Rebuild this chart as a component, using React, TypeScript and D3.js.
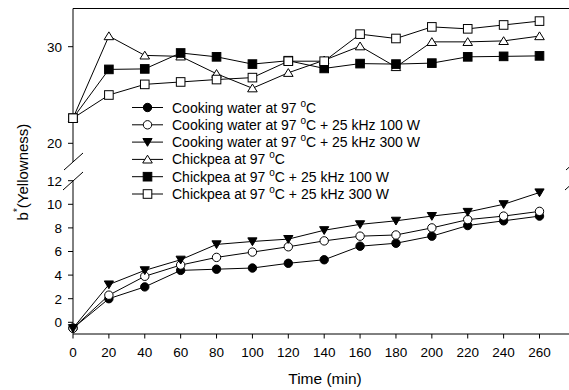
import React from "react";
import * as d3 from "d3";

const times = [0, 20, 40, 60, 80, 100, 120, 140, 160, 180, 200, 220, 240, 260];
const xTicks = [0, 20, 40, 60, 80, 100, 120, 140, 160, 180, 200, 220, 240, 260];
const lowerTicks = [0, 2, 4, 6, 8, 10, 12];
const upperTicks = [20, 30];

const cookingWater = [-0.5, 2.0, 3.0, 4.4, 4.5, 4.6, 5.0, 5.3, 6.45, 6.7, 7.3, 8.2, 8.6, 9.0];
const cookingWater100 = [-0.5, 2.3, 3.9, 4.85, 5.5, 5.95, 6.4, 6.9, 7.3, 7.4, 8.0, 8.7, 9.0, 9.4];
const cookingWater300 = [-0.5, 3.2, 4.4, 5.3, 6.6, 6.85, 7.05, 7.8, 8.3, 8.6, 9.0, 9.35, 10.0, 11.0];
const chickpea = [22.6, 31.1, 29.1, 29.0, 27.2, 25.7, 27.3, 28.6, 30.05, 27.9, 30.5, 30.5, 30.6, 31.1];
const chickpea100 = [22.6, 27.65, 27.7, 29.35, 28.95, 28.2, 28.55, 27.75, 28.25, 28.2, 28.3, 28.95, 29.0, 29.05];
const chickpea300 = [22.6, 25.0, 26.1, 26.35, 26.6, 26.8, 28.5, 28.5, 31.3, 30.85, 32.05, 31.85, 32.25, 32.65];

const seriesNames = [
  "Cooking water at 97 ",
  "Cooking water at 97 ",
  "Cooking water at 97 ",
  "Chickpea at 97 ",
  "Chickpea at 97 ",
  "Chickpea at 97 ",
];
const seriesSuffix = ["", " + 25 kHz 100 W", " + 25 kHz 300 W", "", " + 25 kHz 100 W", " + 25 kHz 300 W"];

type Shape = "circle" | "triangleDown" | "triangleUp" | "square";

const FONT = "'Liberation Sans', Arial, Helvetica, sans-serif";

function Marker({ shape, filled, x, y }: { shape: Shape; filled: boolean; x: number; y: number }) {
  const fill = filled ? "#000" : "#fff";
  if (shape === "circle") return <circle cx={x} cy={y} r={4.2} fill={fill} stroke="#000" strokeWidth={1} />;
  if (shape === "square") return <rect x={x - 4.3} y={y - 4.3} width={8.6} height={8.6} fill={fill} stroke="#000" strokeWidth={1} />;
  if (shape === "triangleUp")
    return <path d={`M${x},${y - 4.2}L${x + 4.8},${y + 3.6}L${x - 4.8},${y + 3.6}Z`} fill={fill} stroke="#000" strokeWidth={1} />;
  return <path d={`M${x},${y + 4.2}L${x + 4.6},${y - 3.6}L${x - 4.6},${y - 3.6}Z`} fill={fill} stroke="#000" strokeWidth={1} />;
}

export default function App() {
  const W = 569;
  const H = 390;
  const x = d3.scaleLinear().domain([0, 260]).range([73, 539.5]);
  const yLow = d3.scaleLinear().domain([0, 12]).range([322.3, 180.7]);
  const yUp = d3.scaleLinear().domain([20, 30]).range([143.3, 46.7]);

  const left = 73;
  const right = 575;
  const top = 8.5;
  const bottom = 334;

  const series = [
    { data: cookingWater, shape: "circle" as Shape, filled: true, scale: yLow },
    { data: cookingWater100, shape: "circle" as Shape, filled: false, scale: yLow },
    { data: cookingWater300, shape: "triangleDown" as Shape, filled: true, scale: yLow },
    { data: chickpea, shape: "triangleUp" as Shape, filled: false, scale: yUp },
    { data: chickpea100, shape: "square" as Shape, filled: true, scale: yUp },
    { data: chickpea300, shape: "square" as Shape, filled: false, scale: yUp },
  ];

  const legendY0 = 107.5;
  const legendDy = 17.3;

  return (
    <svg width={W} height={H} style={{ position: "absolute", left: 0, top: 0, background: "#fff" }} fontFamily={FONT}>
      {/* frame */}
      <line x1={left} x2={right} y1={top} y2={top} stroke="#000" strokeWidth={1} />
      <line x1={left} x2={right} y1={bottom} y2={bottom} stroke="#000" strokeWidth={1} />
      <line x1={left} x2={left} y1={top} y2={162} stroke="#000" strokeWidth={1} />
      <line x1={left} x2={left} y1={181} y2={bottom} stroke="#000" strokeWidth={1} />
      <line x1={right} x2={right} y1={top} y2={162} stroke="#000" strokeWidth={1} />
      <line x1={right} x2={right} y1={181} y2={bottom} stroke="#000" strokeWidth={1} />
      {/* break marks */}
      {[left, right].map((bx, i) => (
        <g key={i}>
          <line x1={bx - 9} y1={170} x2={bx + 10} y2={153} stroke="#000" strokeWidth={1} />
          <line x1={bx - 10} y1={190} x2={bx + 10} y2={172} stroke="#000" strokeWidth={1} />
        </g>
      ))}

      {/* x ticks */}
      {xTicks.map((t) => (
        <g key={t}>
          <line x1={x(t)} x2={x(t)} y1={bottom} y2={bottom + 4.5} stroke="#000" strokeWidth={1} />
          <text x={x(t)} y={357} fontSize={13.5} textAnchor="middle" fill="#000">
            {t}
          </text>
        </g>
      ))}
      {/* y ticks */}
      {lowerTicks.map((t) => (
        <g key={"l" + t}>
          <line x1={left - 5} x2={left} y1={yLow(t)} y2={yLow(t)} stroke="#000" strokeWidth={1} />
          <text x={62} y={yLow(t)} dy="0.36em" fontSize={13.5} textAnchor="end" fill="#000">
            {t}
          </text>
        </g>
      ))}
      {upperTicks.map((t) => (
        <g key={"u" + t}>
          <line x1={left - 5} x2={left} y1={yUp(t)} y2={yUp(t)} stroke="#000" strokeWidth={1} />
          <text x={62} y={yUp(t)} dy="0.36em" fontSize={13.5} textAnchor="end" fill="#000">
            {t}
          </text>
        </g>
      ))}

      {/* axis labels */}
      <text x={325} y={384} fontSize={15.5} textAnchor="middle" fill="#000">
        Time (min)
      </text>
      <text transform="translate(28,172) rotate(-90)" fontSize={15} textAnchor="middle" fill="#000">
        b<tspan fontSize={10} dy={-7}>*</tspan>
        <tspan dy={7}>(Yellowness)</tspan>
      </text>

      {/* series */}
      {series.map((s, i) => {
        const line = d3
          .line<number>()
          .x((_, j) => x(times[j]))
          .y((d) => s.scale(d));
        return (
          <g key={i}>
            <path d={line(s.data) || ""} fill="none" stroke="#000" strokeWidth={1} />
            {s.data.map((d, j) => (
              <Marker key={j} shape={s.shape} filled={s.filled} x={x(times[j])} y={s.scale(d)} />
            ))}
          </g>
        );
      })}

      {/* legend */}
      {series.map((s, i) => {
        const ly = legendY0 + i * legendDy;
        return (
          <g key={"lg" + i}>
            <line x1={132} x2={163} y1={ly} y2={ly} stroke="#000" strokeWidth={1} />
            <Marker shape={s.shape} filled={s.filled} x={147.5} y={ly} />
            <text x={172} y={ly} dy="0.36em" fontSize={14} fill="#000">
              {seriesNames[i]}
              <tspan fontSize={10} dy={-6}>o</tspan>
              <tspan dy={6}>{"C" + seriesSuffix[i]}</tspan>
            </text>
          </g>
        );
      })}
    </svg>
  );
}
